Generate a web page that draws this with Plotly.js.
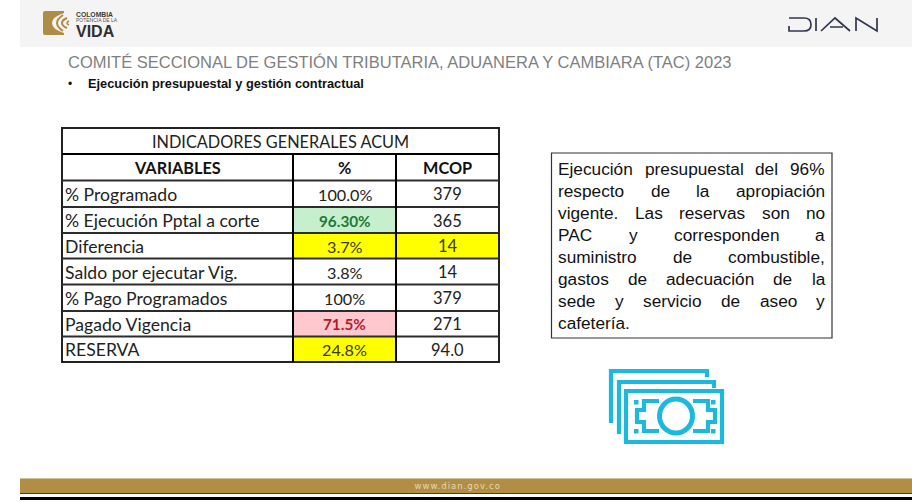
<!DOCTYPE html>
<html><head><meta charset="utf-8">
<script src="https://cdn.plot.ly/plotly-3.0.1.min.js"></script>
<style>html,body{margin:0;padding:0;background:#fff;overflow:hidden}#c{width:912px;height:502px}</style>
</head><body><div id="c"></div>
<script>
// ---- data ----
const slideTitle = 'COMITÉ SECCIONAL DE GESTIÓN TRIBUTARIA, ADUANERA Y CAMBIARA (TAC) 2023';
const slideBullet = 'Ejecución presupuestal y gestión contractual';
const tableTitle = 'INDICADORES GENERALES ACUM';
const columnHeads = ['VARIABLES', '%', 'MCOP'];
const variables = ['% Programado', '% Ejecución Pptal a corte', 'Diferencia', 'Saldo por ejecutar Vig.', '% Pago Programados', 'Pagado Vigencia', 'RESERVA'];
const pctLabels = ['100.0%', '96.30%', '3.7%', '3.8%', '100%', '71.5%', '24.8%'];
const mcopLabels = ['379', '365', '14', '14', '379', '271', '94.0'];
const noteLines = [
  'Ejecución presupuestal del 96%',
  'respecto de la apropiación',
  'vigente. Las reservas son no',
  'PAC y corresponden a',
  'suministro de combustible,',
  'gastos de adecuación de la',
  'sede y servicio de aseo y',
  'cafetería.'
];
const footerText = 'www.dian.gov.co';

// ---- styles and layout ----
const pctStatus = ['', 'good', 'warn', '', '', 'bad', 'warn'];
const mcopStatus = ['', '', 'warn', '', '', '', ''];
const statusFill = {good: '#c6efce', warn: '#ffff00', bad: '#ffc7ce'};
const statusText = {good: '#1c7a35', bad: '#b01c2e', warn: '#3a3a14'};
const colX = [62, 293, 396, 499];
const rowY = [128, 154, 180.5, 207, 233, 258.5, 284.5, 311, 336.5, 362];
const sans = '"Liberation Sans", Arial, sans-serif';
const cal = 'Lato, sans-serif';
const shapes = [], ann = [];

function rect(x0, y0, x1, y1, fill, line, w) {
  shapes.push({type: 'rect', xref: 'x', yref: 'y', x0, y0, x1, y1, layer: 'below',
    fillcolor: fill || 'rgba(0,0,0,0)', line: {color: line || 'rgba(0,0,0,0)', width: w || 0}});
}
function seg(x0, y0, x1, y1, color, w) {
  shapes.push({type: 'line', xref: 'x', yref: 'y', x0, y0, x1, y1, layer: 'below', line: {color, width: w}});
}
function path(d, color, w, fill) {
  shapes.push({type: 'path', xref: 'x', yref: 'y', path: d, layer: 'below',
    fillcolor: fill || 'rgba(0,0,0,0)', line: {color: color || 'rgba(0,0,0,0)', width: w || 0}});
}
function txt(text, x, y, size, color, anchor, family, bold) {
  ann.push({xref: 'x', yref: 'y', x, y, text: bold ? '<b>' + text + '</b>' : text, showarrow: false,
    xanchor: anchor || 'left', yanchor: 'middle', borderpad: 0, borderwidth: 0,
    font: {size, color, family: family || sans}});
}

// header and footer bands
rect(20, 0, 912, 47, '#f4f4f4');
rect(20, 478, 912, 479.2, '#d3c39a');
rect(20, 479, 912, 493, '#b28e44');
rect(20, 493, 912, 494, '#4a3f22');
rect(20, 497, 912, 500, '#000000');
txt(footerText, 457.5, 486, 8.5, '#e6d9b5', 'center', '"DejaVu Sans", sans-serif');

// headline logo
const gold = '#b08d45';
path('M45 11 H64 L64 13 Q52 17 52 23 Q52 29 64 33 L64 35 H45 Q43 35 43 33 V13 Q43 11 45 11 Z', null, 0, gold);
path('M63 15 Q57 19 57 23 Q57 27 63 31', gold, 2);
path('M67 18 Q62 20 62 23 Q62 26 67 28', gold, 2);
path('M69 21 Q67 22 67 23 Q67 24 69 25', gold, 1.6);
txt('COLOMBIA', 75.5, 14, 6.8, '#3a3a3a', 'left', sans, true);
txt('POTENCIA DE LA', 75.5, 19.5, 5, '#555555');
txt('VIDA', 75.5, 31, 16, '#303030', 'left', sans, true);

// DIAN logo
const navy = '#2f3650';
path('M789 18 H804 Q811 18 811 24.5 Q811 31 804 31 H789 V26', navy, 1.7);
seg(816, 18, 816, 31, navy, 1.7);
path('M821 31 L835 18 L850 31', navy, 1.7);
seg(830, 27, 843, 27, navy, 1.5);
path('M856 31 V18 L877 31 V18', navy, 1.7);

// headings
txt(slideTitle, 67.5, 61.5, 16.5, '#7f7f7f');
txt('•', 68, 84, 12, '#111111');
txt(slideBullet, 88, 83, 12.8, '#111111', 'left', sans, true);

// table fills
variables.forEach((v, i) => {
  const y0 = rowY[i + 2], y1 = rowY[i + 3];
  if (pctStatus[i]) rect(colX[1], y0, colX[2], y1, statusFill[pctStatus[i]]);
  if (mcopStatus[i]) rect(colX[2], y0, colX[3], y1, statusFill[mcopStatus[i]]);
});
// table rules
rect(colX[0], rowY[0], colX[3], rowY[9], null, '#222222', 2);
rowY.slice(1, 9).forEach((y, i) => seg(colX[0], y, colX[3], y, i === 0 ? '#000000' : '#2c2c2c', i === 0 ? 2.2 : 1.8));
[colX[1], colX[2]].forEach(x => seg(x, rowY[1], x, rowY[9], '#000000', 2));

// table text
txt(tableTitle, (colX[0] + colX[3]) / 2, (rowY[0] + rowY[1]) / 2, 16.3, '#222222', 'center', cal);
columnHeads.forEach((h, j) => txt(h, (colX[j] + colX[j + 1]) / 2, (rowY[1] + rowY[2]) / 2, 16.3, '#111111', 'center', cal, true));
variables.forEach((v, i) => {
  const yc = (rowY[i + 2] + rowY[i + 3]) / 2 + 0.7;
  txt(v, 65, yc, 17.6, '#222222', 'left', cal);
  const st = pctStatus[i];
  const strong = st === 'good' || st === 'bad';
  txt(pctLabels[i], (colX[1] + colX[2]) / 2, yc, strong ? 15.3 : 16.2, st ? statusText[st] : '#222222', 'center', cal, strong);
  txt(mcopLabels[i], (colX[2] + colX[3]) / 2, yc, 16.5, mcopStatus[i] ? statusText.warn : '#222222', 'center', cal);
});

// justified note box
rect(551.5, 153, 832, 338, '#ffffff', '#333333', 1.2);
const noteSize = 17.25, noteLeft = 558, noteRight = 825, noteTop = 168.5, noteStep = 22;
const ctx = document.createElement('canvas').getContext('2d');
ctx.font = noteSize + 'px "Liberation Sans"';
noteLines.forEach((line, i) => {
  const y = noteTop + i * noteStep;
  if (i === noteLines.length - 1) { txt(line, noteLeft, y, noteSize, '#111111'); return; }
  const words = line.split(' ');
  const total = words.reduce((s, w) => s + ctx.measureText(w).width, 0);
  const gap = (noteRight - noteLeft - total) / (words.length - 1);
  let x = noteLeft;
  words.forEach(w => { txt(w, x, y, noteSize, '#111111'); x += ctx.measureText(w).width + gap; });
});

// money icon
const cyan = '#1cb8de', iw = 4.2;
path('M611 423 V371 H707 V377', cyan, iw);
path('M619 434 V382 H714 V388', cyan, iw);
rect(626, 391, 722, 442, null, cyan, iw);
shapes.push({type: 'circle', xref: 'x', yref: 'y', x0: 659.5, x1: 692.5, y0: 399, y1: 433, layer: 'below',
  line: {color: cyan, width: 5}, fillcolor: 'rgba(0,0,0,0)'});
path('M659 401 H644 V410 H637 V422 H644 V431 H659', cyan, iw);
path('M693 401 H708 V410 H715 V422 H708 V431 H693', cyan, iw);
[[634, 400], [634, 429], [711, 400], [711, 429]].forEach(p => rect(p[0], p[1], p[0] + 4.5, p[1] + 4.5, cyan));

Plotly.newPlot('c', [], {
  width: 912, height: 502, margin: {l: 0, r: 0, t: 0, b: 0},
  paper_bgcolor: '#ffffff', plot_bgcolor: '#ffffff', showlegend: false,
  xaxis: {range: [0, 912], visible: false, fixedrange: true},
  yaxis: {range: [502, 0], visible: false, fixedrange: true},
  shapes, annotations: ann
}, {displayModeBar: false, staticPlot: true}).then(() => {
  document.querySelectorAll('.annotation-text').forEach(t => {
    if (t.textContent === footerText) t.style.letterSpacing = '1px';
  });
});
</script></body></html>
